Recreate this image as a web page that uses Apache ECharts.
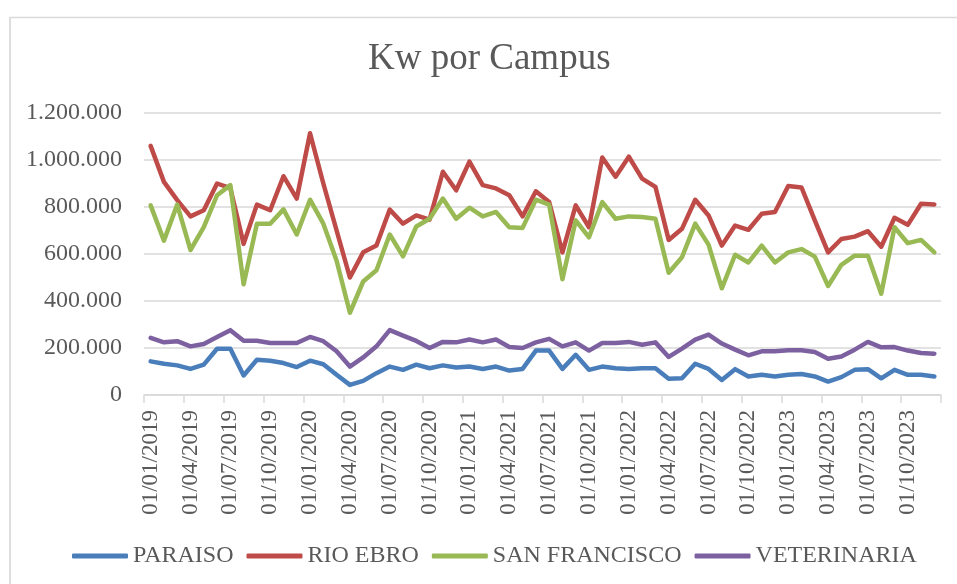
<!DOCTYPE html>
<html>
<head>
<meta charset="utf-8">
<script src="https://cdn.jsdelivr.net/npm/echarts@6/dist/echarts.min.js"></script>
<style>html,body{margin:0;padding:0;background:#fff;}#c{width:957px;height:584px;}</style>
</head>
<body>
<div id="c"></div>
<script>
// Categories: monthly from 01/01/2019 to 01/12/2023
var categories = [];
for (var y = 2019; y <= 2023; y++) {
  for (var m = 1; m <= 12; m++) {
    categories.push('01/' + (m < 10 ? '0' + m : m) + '/' + y);
  }
}
var seriesNames = ['PARAISO', 'RIO EBRO', 'SAN FRANCISCO', 'VETERINARIA'];
var paraiso = [143000,133000,126000,111000,129000,197000,197000,83000,150000,146000,136000,119000,146000,131000,86000,43000,60000,93000,121000,107000,129000,114000,126000,117000,121000,111000,121000,104000,111000,189000,189000,111000,171000,107000,121000,114000,111000,114000,114000,69000,71000,133000,111000,64000,110000,79000,86000,79000,86000,89000,79000,57000,76000,107000,110000,71000,107000,86000,86000,79000];
var rioEbro = [1060000,907000,829000,760000,786000,900000,880000,643000,810000,786000,931000,836000,1114000,900000,700000,500000,607000,636000,789000,729000,764000,746000,950000,871000,993000,893000,879000,850000,760000,867000,821000,607000,807000,714000,1011000,929000,1014000,921000,886000,660000,707000,831000,764000,636000,721000,703000,771000,779000,889000,883000,743000,607000,664000,674000,697000,631000,754000,724000,814000,811000];
var sanFrancisco = [807000,657000,810000,617000,714000,850000,893000,471000,729000,729000,790000,683000,831000,729000,571000,350000,483000,531000,683000,590000,717000,750000,836000,750000,797000,760000,779000,714000,711000,831000,810000,493000,743000,671000,821000,750000,760000,757000,750000,520000,586000,729000,640000,454000,597000,564000,636000,564000,607000,621000,589000,464000,554000,593000,593000,431000,714000,646000,660000,607000];
var veterinaria = [243000,224000,229000,207000,217000,247000,276000,231000,231000,221000,221000,221000,247000,229000,186000,121000,160000,207000,276000,253000,230000,200000,226000,224000,236000,224000,236000,204000,200000,224000,239000,207000,224000,189000,221000,221000,226000,214000,224000,162000,197000,236000,257000,219000,193000,169000,186000,186000,190000,190000,183000,154000,164000,193000,226000,203000,204000,189000,179000,176000];
var yTicks = [0, 200000, 400000, 600000, 800000, 1000000, 1200000];

var colors = ['#4a7ebb', '#be4b48', '#98b954', '#7d60a0'];
var font = "'Liberation Serif', 'Times New Roman', serif";
var dataSets = [paraiso, rioEbro, sanFrancisco, veterinaria];

function fmt(v) {
  return String(v).replace(/\B(?=(\d{3})+(?!\d))/g, '.');
}

var chart = echarts.init(document.getElementById('c'), null, {renderer: 'canvas'});
chart.setOption({
  backgroundColor: '#ffffff',
  animation: false,
  color: colors,
  title: {
    text: 'Kw por Campus',
    left: 368,
    top: 41,
    padding: 0,
    textStyle: {fontFamily: font, fontSize: 37, fontWeight: 'normal', color: '#595959'}
  },
  graphic: [{
    type: 'rect',
    shape: {x: 10, y: 17.5, width: 1200, height: 1200},
    style: {fill: 'none', stroke: '#d9d9d9', lineWidth: 1.7},
    silent: true
  }],
  legend: {
    data: seriesNames,
    top: 542,
    left: 72,
    padding: 0,
    itemWidth: 56,
    itemHeight: 5,
    itemGap: 13,
    icon: 'roundRect',
    textStyle: {fontFamily: font, fontSize: 24, color: '#595959', lineHeight: 28}
  },
  grid: {left: 144, right: 16, top: 113, bottom: 189, containLabel: false},
  xAxis: {
    type: 'category',
    data: categories,
    boundaryGap: true,
    axisLine: {lineStyle: {color: '#d9d9d9', width: 1.5}},
    axisTick: {show: true, interval: 2, length: 8, lineStyle: {color: '#d9d9d9', width: 1.5}},
    axisLabel: {
      interval: 2,
      rotate: 90,
      margin: 15,
      fontFamily: font,
      fontSize: 23,
      color: '#595959'
    },
    splitLine: {show: false}
  },
  yAxis: {
    type: 'value',
    min: yTicks[0],
    max: yTicks[yTicks.length - 1],
    interval: yTicks[1] - yTicks[0],
    axisLine: {show: false},
    axisTick: {show: false},
    axisLabel: {
      margin: 22,
      fontFamily: font,
      fontSize: 24,
      color: '#595959',
      formatter: function (v) { return fmt(v); }
    },
    splitLine: {lineStyle: {color: '#d9d9d9', width: 1.5}}
  },
  series: seriesNames.map(function (name, i) {
    return {
      name: name,
      type: 'line',
      data: dataSets[i],
      symbol: 'none',
      smooth: false,
      lineStyle: {width: 4.5, color: colors[i], cap: 'round', join: 'round'},
      itemStyle: {color: colors[i]}
    };
  })
});
</script>
</body>
</html>
